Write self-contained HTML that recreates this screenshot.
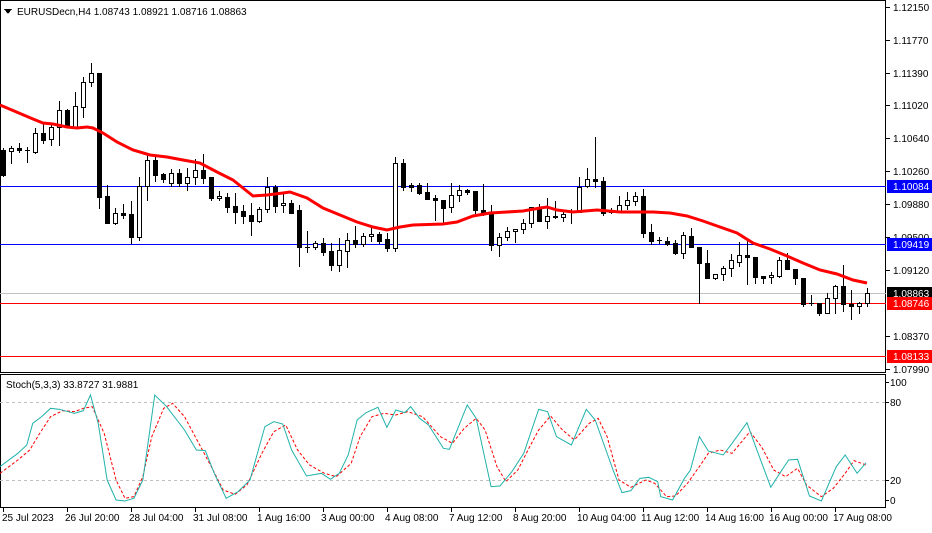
<!DOCTYPE html>
<html><head><meta charset="utf-8"><style>
body{margin:0;background:#fff;width:932px;height:528px;overflow:hidden;font-family:"Liberation Sans",sans-serif}
svg text{font-family:"Liberation Sans",sans-serif;font-size:10px;fill:#000}
</style></head><body>
<svg id="s" width="932" height="528" xmlns="http://www.w3.org/2000/svg" shape-rendering="crispEdges">
<rect width="932" height="528" fill="#fff"/>
<!-- frames -->
<rect x="0.5" y="0.5" width="885" height="372" fill="none" stroke="#000"/>
<rect x="0.5" y="374.5" width="885" height="133" fill="none" stroke="#000"/>
<!-- horizontal levels -->
<line x1="0" x2="886" y1="186.5" y2="186.5" stroke="#0000ff"/>
<line x1="0" x2="886" y1="244.5" y2="244.5" stroke="#0000ff"/>
<line x1="0" x2="886" y1="293.5" y2="293.5" stroke="#c0c0c0"/>
<line x1="0" x2="886" y1="303.5" y2="303.5" stroke="#ff0000"/>
<line x1="0" x2="886" y1="356.5" y2="356.5" stroke="#ff0000"/>
<line x1="0" x2="886" y1="402.5" y2="402.5" stroke="#c0c0c0" stroke-dasharray="3,3"/>
<line x1="0" x2="886" y1="480.5" y2="480.5" stroke="#c0c0c0" stroke-dasharray="3,3"/>
<g id="candles"></g>
<polyline fill="none" stroke="#ff0000" stroke-width="3" shape-rendering="auto" points="0,105 33,119 43,123 53,124 67,127 77,128 87,127 93,128 103,133 117,142 133,150 150,155 167,157 183,160 200,163 217,172 233,180 243,188 253,196 267,195 283,193 290,192 307,198 323,208 340,215 357,222 373,227 387,230 400,227 413,225 443,224 457,222 473,216 490,213 507,212 523,211 540,208 547,207 557,210 573,212 597,210 620,212 653,212 670,213 687,216 703,221 720,227 737,233 753,243 770,249 787,256 803,263 820,270 837,274 853,280 867,283"/>
<g transform="translate(0,370) scale(0.5952,0.3333)" shape-rendering="auto">
<polyline fill="none" stroke="#ff0000" stroke-width="1" vector-effect="non-scaling-stroke" stroke-dasharray="3,2" points="0,310 30,270 50,240 65,195 85,140 105,122 125,125 140,115 155,110 175,190 195,330 210,385 225,380 240,320 255,200 275,115 290,100 310,140 340,240 355,290 375,360 395,373 415,345 440,250 460,185 480,165 500,240 520,285 545,310 565,320 590,280 605,200 625,140 645,130 665,135 685,125 710,140 740,200 760,220 780,175 800,145 815,180 835,290 850,335 870,300 890,230 905,180 925,138 945,180 965,210 990,160 1005,145 1020,200 1040,330 1060,352 1085,330 1100,340 1120,380 1135,378 1155,340 1175,290 1190,250 1210,240 1230,250 1260,185 1280,232 1300,300 1320,320 1340,295 1355,345 1380,380 1400,355 1420,310 1435,272 1455,285"/>
<polyline fill="none" stroke="#20b2aa" stroke-width="1" vector-effect="non-scaling-stroke" points="0,290 30,250 45,225 55,160 70,140 85,115 100,118 125,130 140,122 152,75 165,160 180,330 195,390 210,393 225,385 240,330 260,75 280,110 310,180 330,240 345,242 360,310 380,385 400,365 420,330 445,170 460,155 475,162 490,240 515,318 540,310 555,328 570,310 585,255 600,150 615,128 635,112 650,172 665,120 680,128 690,110 705,145 720,165 745,235 755,238 785,105 800,145 825,350 840,348 860,305 880,250 905,118 920,125 935,200 960,225 985,118 1000,150 1030,300 1045,368 1060,362 1075,325 1090,322 1105,335 1110,380 1130,390 1150,325 1160,300 1175,200 1190,243 1215,255 1230,220 1255,158 1270,232 1295,352 1310,310 1325,270 1340,268 1360,378 1380,393 1405,290 1420,255 1440,310 1455,278"/>
</g>
<!-- title -->
<polygon points="4,9 12,9 8,14" fill="#000"/>
<text x="17" y="15">EURUSDecn,H4  1.08743 1.08921 1.08716 1.08863</text>
<text x="6" y="388">Stoch(5,3,3) 33.8727 31.9881</text>
<!-- price axis -->
<g id="pa"></g>
<g>
<rect x="887" y="180" width="45" height="13" fill="#0000ff"/><text x="893" y="190" style="fill:#fff">1.10084</text>
<rect x="887" y="238" width="45" height="13" fill="#0000ff"/><text x="893" y="248" style="fill:#fff">1.09419</text>
<rect x="887" y="287" width="45" height="12" fill="#000"/><text x="893" y="297" style="fill:#fff">1.08863</text>
<rect x="887" y="297" width="45" height="13" fill="#ff0000"/><text x="893" y="307" style="fill:#fff">1.08746</text>
<rect x="887" y="350" width="45" height="13" fill="#ff0000"/><text x="893" y="360" style="fill:#fff">1.08133</text>
</g>
<text x="890" y="386">100</text><text x="890" y="406">80</text><text x="890" y="484">20</text><text x="890" y="504">0</text>
<line x1="886" x2="889" y1="382.5" y2="382.5" stroke="#000"/><line x1="886" x2="889" y1="402.5" y2="402.5" stroke="#000"/><line x1="886" x2="889" y1="480.5" y2="480.5" stroke="#000"/><line x1="886" x2="889" y1="500.5" y2="500.5" stroke="#000"/>
<!-- time axis -->
<g id="ta"></g>
<text x="2" y="521">25 Jul 2023</text>
<text x="65" y="521">26 Jul 20:00</text>
<text x="129" y="521">28 Jul 04:00</text>
<text x="193" y="521">31 Jul 08:00</text>
<text x="257" y="521">1 Aug 16:00</text>
<text x="321" y="521">3 Aug 00:00</text>
<text x="385" y="521">4 Aug 08:00</text>
<text x="449" y="521">7 Aug 12:00</text>
<text x="513" y="521">8 Aug 20:00</text>
<text x="577" y="521">10 Aug 04:00</text>
<text x="641" y="521">11 Aug 12:00</text>
<text x="705" y="521">14 Aug 16:00</text>
<text x="769" y="521">16 Aug 00:00</text>
<text x="833" y="521">17 Aug 08:00</text>
</svg>
<script>
var NS="http://www.w3.org/2000/svg";
function el(p,t,a){var e=document.createElementNS(NS,t);for(var k in a)e.setAttribute(k,a[k]);p.appendChild(e);return e;}
var D=[[150,175,148,176,0],[148,151,146,163,1],[148,150,143,152,0],[150,150,147,162,2],[133,152,128,153,1],[133,140,123,143,0],[127,139,125,145,1],[110,127,101,145,1],[110,125,109,125,0],[106,127,92,127,1],[82,107,77,117,1],[73,82,63,86,1],[73,197,73,208,0],[196,223,185,223,0],[213,223,208,224,1],[213,215,204,218,0],[214,237,201,243,0],[186,237,177,240,1],[160,186,153,200,1],[160,175,157,181,0],[174,179,173,182,0],[173,183,169,186,1],[173,183,169,186,0],[177,183,168,190,1],[170,177,159,184,1],[170,178,154,183,0],[177,198,177,200,0],[196,198,191,200,1],[197,207,193,212,0],[206,212,193,223,0],[211,216,205,223,0],[215,221,203,235,0],[209,221,207,222,1],[187,209,177,212,1],[187,206,185,212,0],[203,205,193,212,1],[203,213,200,213,0],[210,247,205,266,0],[247,247,231,252,0],[243,247,241,249,1],[243,252,238,255,0],[251,265,243,270,0],[250,265,238,271,1],[240,251,233,267,1],[240,244,226,247,0],[236,244,233,246,1],[234,236,228,241,1],[234,241,232,243,0],[239,248,233,251,0],[163,248,157,251,1],[163,187,159,190,0],[185,187,183,191,0],[185,193,183,194,0],[192,199,183,199,0],[198,200,195,220,0],[200,208,200,223,0],[195,207,183,212,1],[190,195,185,201,1],[190,192,189,194,0],[191,210,191,215,0],[210,213,184,215,0],[212,245,205,250,0],[237,245,233,256,1],[231,237,227,240,1],[229,231,229,242,1],[223,229,219,233,1],[207,223,207,227,1],[207,221,204,221,0],[216,221,198,228,1],[216,217,201,218,0],[214,217,210,221,1],[212,212,209,223,2],[187,212,177,212,1],[179,186,168,187,1],[179,181,137,187,0],[181,213,177,215,0],[212,212,208,213,2],[205,211,196,212,1],[200,205,192,209,1],[196,201,192,205,1],[196,233,189,237,0],[232,241,224,244,0],[240,240,237,243,2],[241,244,237,245,0],[243,253,240,254,0],[235,253,232,258,1],[236,247,228,247,0],[247,263,247,303,0],[263,278,250,278,0],[274,278,274,279,1],[268,274,266,280,1],[260,268,254,276,1],[255,262,242,266,1],[255,257,239,284,0],[257,277,257,283,0],[276,278,276,283,0],[275,277,272,283,1],[260,276,257,277,1],[260,269,253,269,0],[269,278,269,284,0],[278,304,278,306,0],[303,303,295,305,2],[303,313,303,315,0],[298,313,293,313,1],[286,298,285,313,1],[286,304,265,311,0],[304,306,290,319,0],[303,306,302,313,1],[293,303,288,306,1]];
var g=document.getElementById("candles");
D.forEach(function(c,i){var x=Math.round(2.7+8*i);
el(g,"line",{x1:x+0.5,x2:x+0.5,y1:c[2],y2:c[3]+1,stroke:"#000"});
var h=c[1]-c[0];
if(h<1){el(g,"line",{x1:x-2,x2:x+3,y1:c[0]+0.5,y2:c[0]+0.5,stroke:"#000"});}
else el(g,"rect",{x:x-2+0.5,y:c[0]+0.5,width:4,height:h,fill:c[4]==0?"#000":"#fff",stroke:"#000"});
});
var pa=document.getElementById("pa");
[[7,"1.12150"],[40,"1.11770"],[73,"1.11390"],[105,"1.11020"],[138,"1.10640"],[171,"1.10260"],[204,"1.09880"],[237,"1.09500"],[270,"1.09120"],[336,"1.08370"],[369,"1.07990"]].forEach(function(p){
el(pa,"line",{x1:886,x2:890,y1:p[0]+0.5,y2:p[0]+0.5,stroke:"#000"});
var t=el(pa,"text",{x:893,y:p[0]+4});t.textContent=p[1];});
var ta=document.getElementById("ta");
for(var k=0;k<14;k++){var x=Math.round(2.7+64*k)+0.5;el(ta,"line",{x1:x,x2:x,y1:508,y2:512,stroke:"#000"});}
</script>
</body></html>
